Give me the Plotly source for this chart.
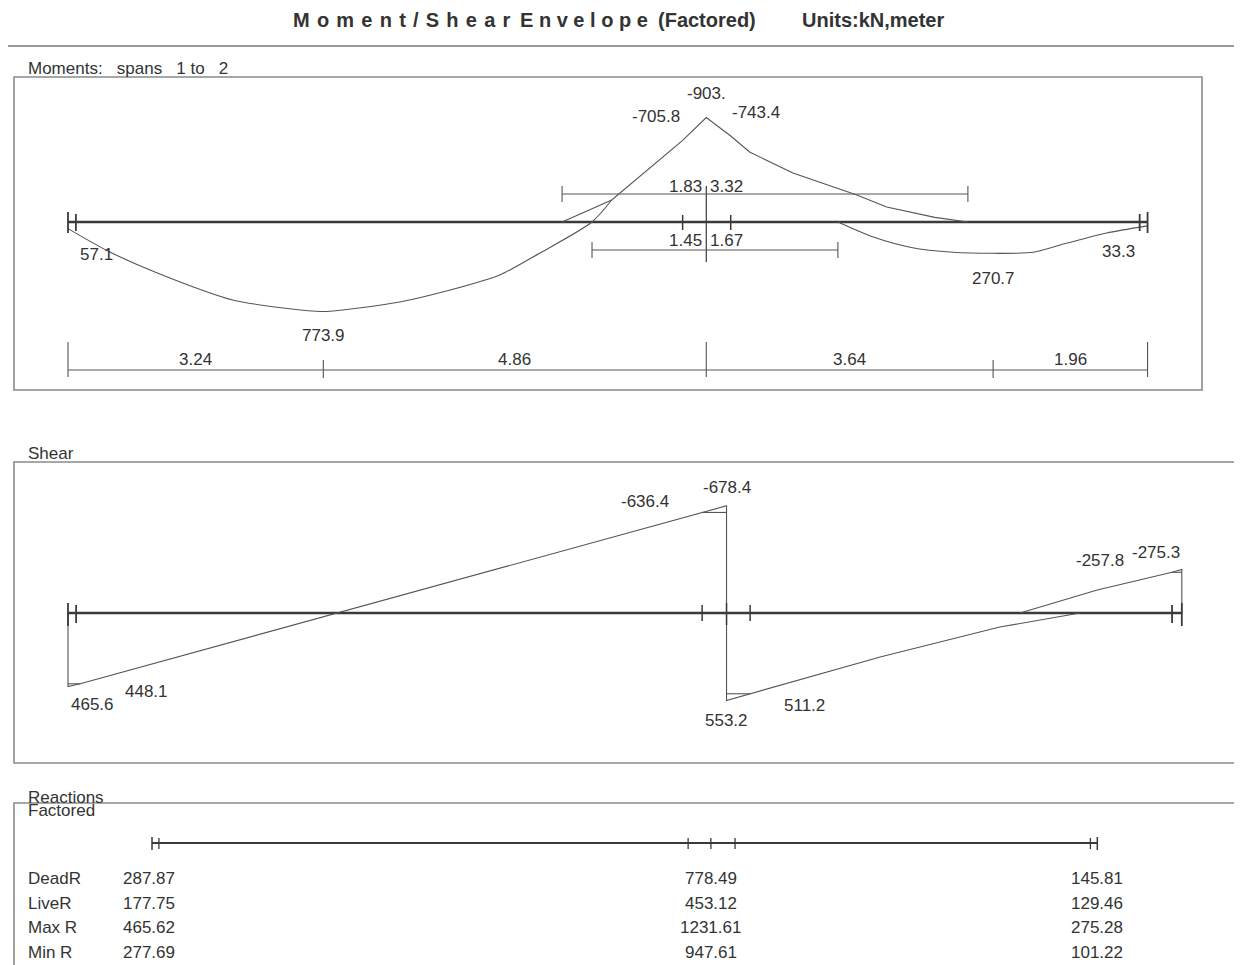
import plotly.graph_objects as go

W, H = 1242, 965
OX, OY = 8, 8   # page body margin of the html page

# ---------------- data ----------------
span_lengths = [8.1, 5.6]
support_x = [0.0, 8.1, 13.7]
face_x = [0.1, 7.8, 8.41, 13.6]            # column faces
moment_dims = [3.24, 4.86, 3.64, 1.96]     # bottom dimension chain
neg_zero_dist = [1.83, 3.32]               # negative-moment extents from interior support
pos_zero_dist = [1.45, 1.67]               # positive-moment inflection distances

# moment envelope (kN·m), positive = sagging (drawn downward)
mmax1_x = [0.0, 0.53, 1.26, 2.09, 2.73, 3.24, 4.21, 4.85, 5.48, 5.99, 6.65, 6.90]
mmax1_v = [57.1, 259, 475, 674, 743, 773.9, 691, 588, 458, 268, 0, -190]
mmax2_x = [9.77, 10.22, 10.70, 11.23, 11.74, 12.25, 12.68, 13.18, 13.7]
mmax2_v = [0, 130, 220, 262, 270.7, 262, 182, 95, 33.3]
mmin_x = [6.27, 6.90, 7.80, 8.10, 8.41, 8.65, 9.20, 10.01, 10.39, 11.0, 11.42]
mmin_v = [0, -190, -705.8, -903.0, -743.4, -605, -423, -233, -130, -40, 0]

# shear envelope (kN)
shear_face_x = [0.1, 7.8, 8.39, 13.58]
vmax_x = [0.0, 0.0, 0.15, 7.80, 8.10, 8.10, 8.39, 9.99, 11.46, 12.45]
vmax_v = [0, 465.6, 448.1, -636.4, -678.4, 553.2, 511.2, 278, 89, 0]
vmin_x = [11.71, 12.66, 13.58, 13.7, 13.7]
vmin_v = [0, -146, -257.8, -275.3, 0]
vflat_x = [0.0, 0.15, None, 7.80, 8.10, None, 8.10, 8.39, None, 13.58, 13.7]
vflat_v = [448.1, 448.1, None, -636.4, -636.4, None, 511.2, 511.2, None, -257.8, -257.8]

# reactions
react_rows = ["DeadR", "LiveR", "Max R", "Min R"]
react_vals = [[287.87, 778.49, 145.81],
              [177.75, 453.12, 129.46],
              [465.62, 1231.61, 275.28],
              [277.69, 947.61, 101.22]]

# ---------------- helpers ----------------
FONT = "Liberation Sans, Arial, sans-serif"
TXT = "#333333"
CURVE = dict(color="#555555", width=1.1)
SMOOTH = dict(color="#555555", width=1.1, shape="spline", smoothing=0.7)
BEAM = dict(color="#3a3a3a", width=2.6)
FS = 17

def pyf(p):
    return 1 - (p - OY) / H

def pxf(p):
    return (p - OX) / W

fig = go.Figure()

def add_line(x, y, ax="", line=CURVE):
    fig.add_trace(go.Scatter(x=x, y=y, mode="lines", line=line, xaxis="x" + ax,
                             yaxis="y" + ax, hoverinfo="skip", showlegend=False,
                             connectgaps=False))

shapes = []
annots = []

def seg_x(ax, x0, x1, y0, y1, color="#3a3a3a", width=1.3):
    shapes.append(dict(type="line", xref="x" + ax, yref="paper", x0=x0, x1=x1,
                       y0=pyf(y0), y1=pyf(y1), line=dict(color=color, width=width)))

def ann(text, x, y, xref="paper", yref="paper", xa="center", ya="middle",
        size=FS, dx=0, dy=0, bold=False):
    annots.append(dict(text=("<b>%s</b>" % text) if bold else text, x=x, y=y,
                       xref=xref, yref=yref, xanchor=xa, yanchor=ya, showarrow=False,
                       xshift=dx, yshift=dy, font=dict(family=FONT, size=size, color=TXT)))

# ---------------- title ----------------
NB = "\u00a0"
GAP = NB + "\u200a"
ann(GAP.join("Moment/Shear"), pxf(291), pyf(20), xa="left", size=20, bold=True)
ann(NB.join("Envelope"), pxf(518), pyf(20), xa="left", size=20, bold=True)
ann("(Factored)", pxf(656), pyf(20), xa="left", size=20, bold=True)
ann("Units:kN,meter", pxf(800), pyf(20), xa="left", size=20, bold=True)
shapes.append(dict(type="line", xref="paper", yref="paper", x0=pxf(5), x1=1,
                   y0=pyf(46), y1=pyf(46), line=dict(color="#9a9a9a", width=2)))

# ---------------- panel boxes ----------------
BOX = dict(color="#8a8a8a", width=1.6)
for (l, t, r, b) in [(14, 77, 1202, 390), (14, 462, 1235, 763), (14, 803, 1235, 985)]:
    shapes.append(dict(type="rect", xref="paper", yref="paper", x0=pxf(l), x1=pxf(r),
                       y0=pyf(b), y1=pyf(t), line=BOX))

ann("Moments:" + NB * 3 + "spans" + NB * 3 + "1" + NB + "to" + NB * 3 + "2",
    pxf(26), pyf(68), xa="left", size=17)
ann("Shear", pxf(26), pyf(453), xa="left", size=17)
ann("Reactions", pxf(26), pyf(797), xa="left", size=17)
ann("Factored", pxf(26), pyf(810), xa="left", size=17)

# ---------------- moment panel ----------------
L = support_x[-1]
mid = support_x[1]
add_line([support_x[0], L], [0, 0], "", BEAM)
add_line(mmax1_x, mmax1_v, "", SMOOTH)
add_line(mmax2_x, mmax2_v, "", SMOOTH)
add_line(mmin_x, mmin_v)

for xs in [support_x[0], L]:
    seg_x("", xs, xs, 212, 233, width=1.8)
for xs in [face_x[0], face_x[-1]]:
    seg_x("", xs, xs, 214, 231, width=1.8)
for xs in face_x[1:3]:
    seg_x("", xs, xs, 215, 230, width=1.5)
seg_x("", mid, mid, 186, 262, width=1.2)

# negative extent dimension
n0, n1 = mid - neg_zero_dist[0], mid + neg_zero_dist[1]
seg_x("", n0, n1, 194, 194, color="#555", width=1.1)
seg_x("", n0, n0, 186, 202, color="#555", width=1.1)
seg_x("", n1, n1, 186, 202, color="#555", width=1.1)
ann("%.2f" % neg_zero_dist[0], mid, pyf(187), xref="x", xa="right", dx=-2)
ann("%.2f" % neg_zero_dist[1], mid, pyf(187), xref="x", xa="left", dx=2)
# positive inflection dimension
p0, p1 = mid - pos_zero_dist[0], mid + pos_zero_dist[1]
seg_x("", p0, p1, 250, 250, color="#555", width=1.1)
seg_x("", p0, p0, 242, 258, color="#555", width=1.1)
seg_x("", p1, p1, 242, 258, color="#555", width=1.1)
ann("%.2f" % pos_zero_dist[0], mid, pyf(240), xref="x", xa="right", dx=-2)
ann("%.2f" % pos_zero_dist[1], mid, pyf(240), xref="x", xa="left", dx=2)

# bottom dimension chain
seg_x("", 0, L, 370, 370, color="#555", width=1.1)
pos = 0.0
edges = [0.0]
for d in moment_dims:
    ann("%.2f" % d, pos + d / 2, pyf(359), xref="x")
    pos += d
    edges.append(pos)
for e in edges:
    if min(abs(e - s) for s in support_x) < 1e-6:
        seg_x("", e, e, 342, 377, color="#555", width=1.1)
    else:
        seg_x("", e, e, 360, 378, color="#555", width=1.1)

# moment value labels
ann("%.1f" % mmax1_v[0], mmax1_x[0], mmax1_v[0], "x", "y", dx=28, dy=-26)
ann("%.1f" % mmax1_v[5], mmax1_x[5], mmax1_v[5], "x", "y", dy=-24)
ann("%.1f" % mmin_v[2], mmin_x[2], mmin_v[2], "x", "y", dx=-27, dy=24)
ann("%d." % mmin_v[3], mmin_x[3], mmin_v[3], "x", "y", dy=24)
ann("%.1f" % mmin_v[4], mmin_x[4], mmin_v[4], "x", "y", dx=25, dy=23)
ann("%.1f" % mmax2_v[4], mmax2_x[4], mmax2_v[4], "x", "y", dy=-25)
ann("%.1f" % mmax2_v[-1], mmax2_x[-1], mmax2_v[-1], "x", "y", dx=-29, dy=-26)

# ---------------- shear panel ----------------
add_line([support_x[0], L], [0, 0], "2", BEAM)
add_line(vmax_x, vmax_v, "2")
add_line(vmin_x, vmin_v, "2")
add_line(vflat_x, vflat_v, "2")
for xs in [support_x[0], L]:
    seg_x("2", xs, xs, 603, 626, width=1.8)
for xs in [shear_face_x[0], shear_face_x[-1]]:
    seg_x("2", xs, xs, 605, 623, width=1.8)
for xs in shear_face_x[1:3]:
    seg_x("2", xs, xs, 605, 621, width=1.5)
seg_x("2", mid, mid, 603, 625, width=1.5)

ann("%.1f" % vmax_v[1], vmax_x[1], vmax_v[1], "x2", "y2", dx=24, dy=-18)
ann("%.1f" % vmax_v[2], vmax_x[2], vmax_v[2], "x2", "y2", dx=66, dy=-8)
ann("%.1f" % vmax_v[3], vmax_x[3], vmax_v[3], "x2", "y2", dx=-57, dy=11)
ann("%.1f" % vmax_v[4], vmax_x[4], vmax_v[4], "x2", "y2", dx=0, dy=18)
ann("%.1f" % vmax_v[5], vmax_x[5], vmax_v[5], "x2", "y2", dx=0, dy=-20)
ann("%.1f" % vmax_v[6], vmax_x[6], vmax_v[6], "x2", "y2", dx=54, dy=-12)
ann("%.1f" % vmin_v[2], vmin_x[2], vmin_v[2], "x2", "y2", dx=-72, dy=12)
ann("%.1f" % vmin_v[3], vmin_x[3], vmin_v[3], "x2", "y2", dx=-26, dy=17)

# ---------------- reactions panel ----------------
react_face = [0.1, 7.77, 8.45, 13.6]
add_line([support_x[0], L], [0, 0], "3", dict(color="#3a3a3a", width=1.8))
for xs in [support_x[0], L]:
    seg_x("3", xs, xs, 837, 850, width=1.5)
for xs in react_face + [mid]:
    seg_x("3", xs, xs, 838, 849, width=1.3)
row_y = [878, 903, 927, 952]
for name, vals, yy in zip(react_rows, react_vals, row_y):
    ann(name, pxf(26), pyf(yy), xa="left", size=17)
    ann("%.2f" % vals[0], support_x[0], pyf(yy), xref="x3", xa="left", dx=-31, size=17)
    for xs, v in zip(support_x[1:], vals[1:]):
        ann("%.2f" % v, xs, pyf(yy), xref="x3", size=17)

# ---------------- axes ----------------
def xax(origin, scale, anchor):
    o = origin - OX
    return dict(domain=[0, 1], range=[-o / scale, (W - o) / scale],
                visible=False, anchor=anchor, fixedrange=True)

def yax(top, bottom, base, scale, anchor):
    return dict(domain=[pyf(bottom), pyf(top)],
                range=[(bottom - base) / scale, (top - base) / scale],
                visible=False, anchor=anchor, fixedrange=True)

fig.update_layout(
    width=W, height=H, margin=dict(l=0, r=0, t=0, b=0),
    paper_bgcolor="white", plot_bgcolor="rgba(0,0,0,0)",
    xaxis=xax(68, 78.8, "y"), yaxis=yax(60, 400, 222, 0.1157, "x"),
    xaxis2=xax(68, 81.3, "y2"), yaxis2=yax(440, 780, 613, 0.158, "x2"),
    xaxis3=xax(152, 69.0, "y3"), yaxis3=yax(790, 970, 843, 1.0, "x3"),
    shapes=shapes, annotations=annots, showlegend=False,
    font=dict(family=FONT, color=TXT),
)

fig.write_html("out.html")
